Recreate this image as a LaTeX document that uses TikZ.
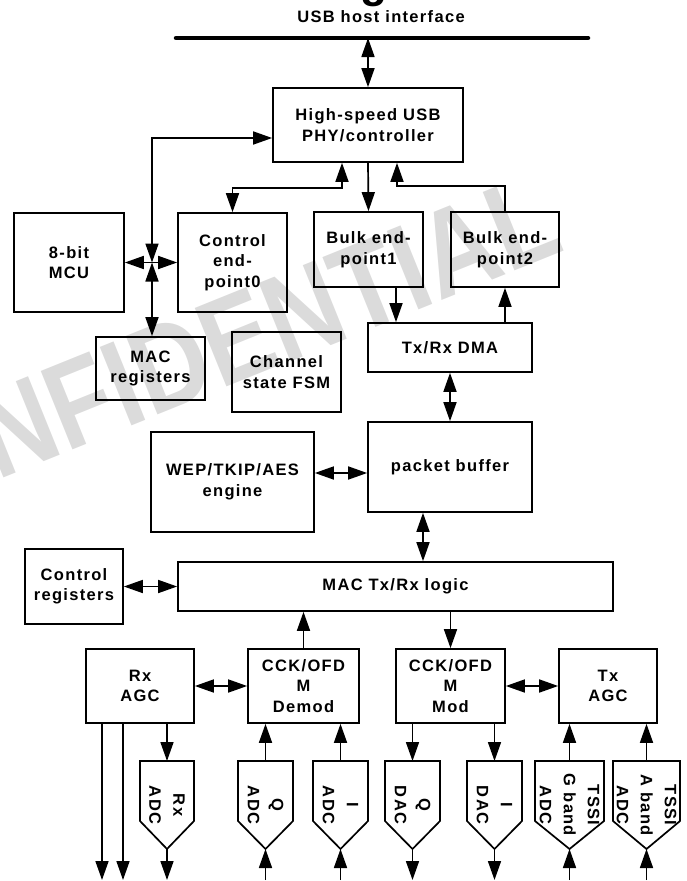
\documentclass[tikz,border=0pt]{standalone}
\usepackage{fontspec}
\setmainfont{Liberation Sans}
\newfontfamily\lab{Liberation Sans}[LetterSpace=8]
\usetikzlibrary{arrows.meta}
\newcommand\mybox[6]{\node[box, minimum width={(#4-#2)*1pt}, minimum height={(#5-#3)*1pt}] (#1) at ({(#2+#4)/2},{(#3+#5)/2}) {#6};}
\newcommand\myconv[4]{%
  \pgfmathsetmacro\cmid{(#2+#3)/2}
  \draw[shp] (#2,761) -- (#3,761) -- (#3,821) -- (\cmid,849) -- (#2,821) -- cycle;
  \coordinate (#1-t) at (\cmid,761);
  \coordinate (#1-b) at (\cmid,849);
  \node[lbl, rotate=-90] (#1) at (\cmid,805) {#4};}
\begin{document}
\begin{tikzpicture}[x=1pt,y=-1pt,
 box/.style={draw, line width=1.7pt, inner sep=0pt, align=center, font=\lab\bfseries\fontsize{16.5}{20.5}\selectfont},
 lbl/.style={inner sep=0pt, align=center, font=\lab\bfseries\fontsize{16.5}{24}\selectfont},
 shp/.style={draw, line width=1.7pt, line join=miter},
 con/.style={line width=1.7pt},
 arr/.style={con, -{Triangle[length=19pt,width=13pt]}},
 dbl/.style={con, {Triangle[length=19pt,width=13pt]}-{Triangle[length=19pt,width=13pt]}},
]
\useasboundingbox (0,0) rectangle (686,881);
\begin{scope}
\clip (0,0) rectangle (686,881);
% watermark
\node[rotate=22, anchor=base east, inner sep=0pt, text=black!14, font=\bfseries\fontsize{123}{123}\selectfont] (wm) at (567,250) {\scalebox{0.84}[1]{CONFIDENTIAL}};
% cut-off title
\node[anchor=base, inner sep=0pt, font=\bfseries\fontsize{44}{44}\selectfont] (ttl) at (374,-3) {g};
\end{scope}

\node[lbl, font=\lab\bfseries\fontsize{16.5}{18}\selectfont] (host) at (381,17) {USB host interface};
\coordinate (busL) at (176,38);
\coordinate (busR) at (588,38);
\coordinate (bus) at (368,38);
\draw[line width=4.5pt, line cap=round] (busL) -- (busR);

\mybox{phy}{273}{88}{463}{162}{High-speed USB\\PHY/controller}
\mybox{mcu}{14}{213}{124}{312}{8-bit\\MCU}
\mybox{ep0}{178}{213}{287}{312}{Control\\end-\\point0}
\mybox{ep1}{314}{212}{423}{287}{Bulk end-\\point1}
\mybox{ep2}{451}{212}{559}{287}{Bulk end-\\point2}
\mybox{dma}{368}{323}{532}{372}{Tx/Rx DMA}
\mybox{macreg}{96}{337}{205}{400}{MAC\\registers}
\mybox{fsm}{232}{332}{341}{412}{Channel\\state FSM}
\mybox{wep}{151}{432}{314}{532}{WEP/TKIP/AES\\engine}
\mybox{pkt}{368}{422}{532}{512}{packet buffer}
\mybox{ctlreg}{25}{549}{123}{624}{Control\\registers}
\mybox{maclogic}{178}{562}{613}{611}{MAC Tx/Rx logic}
\mybox{rxagc}{86}{649}{194}{723}{Rx\\AGC}
\mybox{demod}{248}{649}{359}{723}{CCK/OFD\\M\\Demod}
\mybox{mod}{396}{649}{505}{723}{CCK/OFD\\M\\Mod}
\mybox{txagc}{559}{649}{657}{723}{Tx\\AGC}

\myconv{rxadc}{140}{194}{Rx\\ADC}
\myconv{qadc}{238}{293}{Q\\ADC}
\myconv{iadc}{313}{368}{I\\ADC}
\myconv{qdac}{385}{440}{Q\\DAC}
\myconv{idac}{467}{522}{I\\DAC}
\myconv{gadc}{535}{604}{TSSI\\G band\\ADC}
\myconv{aadc}{613}{680}{TSSI\\A band\\ADC}

\coordinate (jn) at (152,262.5);
\coordinate (bot) at (0,880);

% connectors
\draw[dbl] (bus) -- (phy.north);
\draw[dbl] ([yshift=-13pt]phy.west) -| (jn);
\draw[dbl] (mcu.east) -- (ep0.west);
\draw[dbl] (jn) -- (jn |- macreg.north);
\draw[dbl] ([xshift=-26pt]phy.south) -- ++(0,25) -| (ep0.north);
\draw[arr] (phy.south) -- (ep1.north);
\draw[arr] (ep2.north) -- ++(0,-25) -| ([xshift=29pt]phy.south);
\draw[arr] ([xshift=27.5pt]ep1.south) -- ([xshift=27.5pt]ep1.south |- dma.north);
\draw[arr] (dma.north -| ep2.south) -- (ep2.south);
\draw[dbl] (dma.south) -- (pkt.north);
\draw[dbl] ([yshift=9pt]wep.east) -- ([yshift=9pt]wep.east -| pkt.west);
\draw[dbl] ([xshift=-27pt]pkt.south) -- ([xshift=-27pt]pkt.south |- maclogic.north);
\draw[dbl] (ctlreg.east) -- (ctlreg.east -| maclogic.west);
\draw[arr] (demod.north) -- (demod.north |- maclogic.south);
\draw[arr] (mod.north |- maclogic.south) -- (mod.north);
\draw[dbl] (rxagc.east) -- (demod.west);
\draw[dbl] (mod.east) -- (txagc.west);

\draw[arr] ([xshift=-38pt]rxagc.south) -- ([xshift=-38pt]rxagc.south |- bot);
\draw[arr] ([xshift=-17pt]rxagc.south) -- ([xshift=-17pt]rxagc.south |- bot);
\draw[arr] (rxadc-t |- rxagc.south) -- (rxadc-t);
\draw[arr] (rxadc-b) -- (rxadc-b |- bot);
\draw[arr] (qadc-b |- bot) -- (qadc-b);
\draw[arr] (qadc-t) -- (qadc-t |- demod.south);
\draw[arr] (iadc-b |- bot) -- (iadc-b);
\draw[arr] (iadc-t) -- (iadc-t |- demod.south);
\draw[arr] (qdac-t |- mod.south) -- (qdac-t);
\draw[arr] (qdac-b) -- (qdac-b |- bot);
\draw[arr] (idac-t |- mod.south) -- (idac-t);
\draw[arr] (idac-b) -- (idac-b |- bot);
\draw[arr] (gadc-b |- bot) -- (gadc-b);
\draw[arr] (gadc-t) -- (gadc-t |- txagc.south);
\draw[arr] (aadc-b |- bot) -- (aadc-b);
\draw[arr] (aadc-t) -- (aadc-t |- txagc.south);
\end{tikzpicture}
\end{document}
